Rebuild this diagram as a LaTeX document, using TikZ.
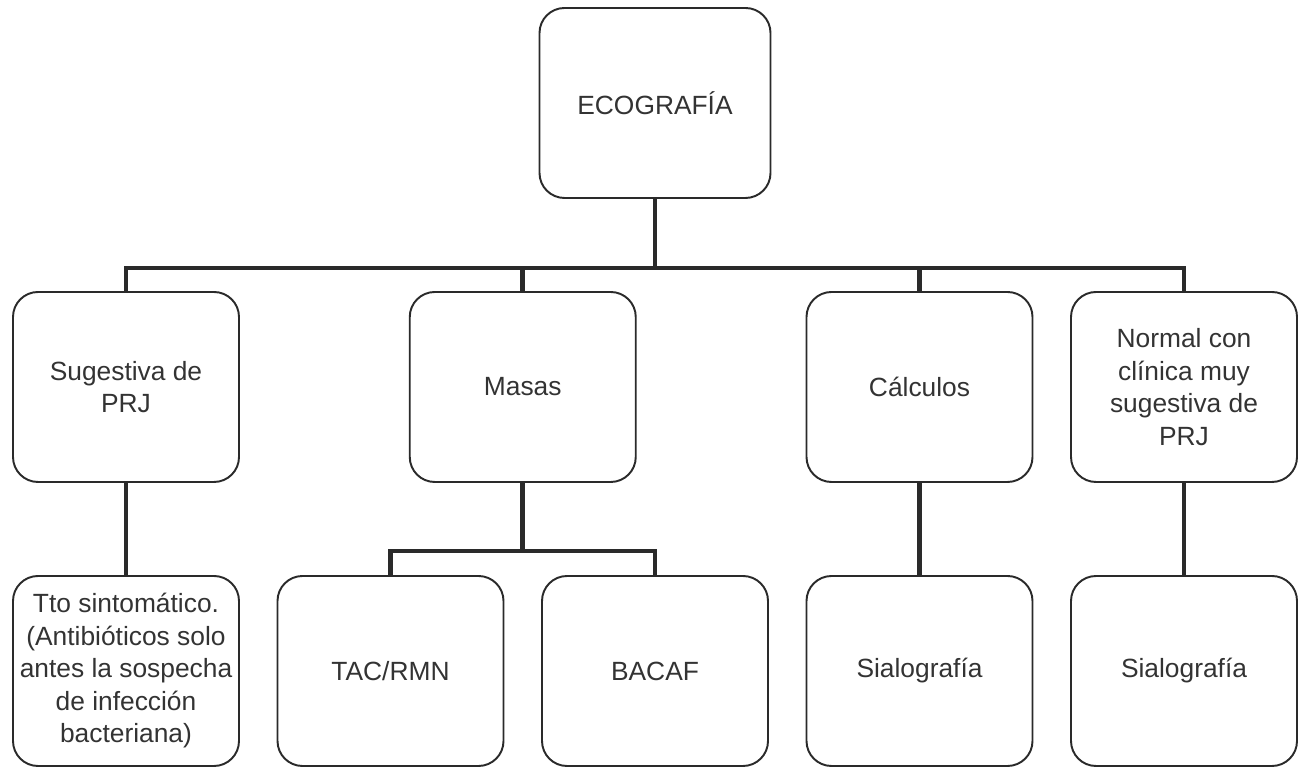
\documentclass[tikz,border=0pt]{standalone}
\usepackage{fontspec}
\setmainfont{Liberation Sans}
\usetikzlibrary{positioning, calc}
\usepackage{xcolor}
\definecolor{inkgray}{HTML}{2A2A2A}
\definecolor{textgray}{HTML}{333333}

\begin{document}
\begin{tikzpicture}[
    node distance=1.88cm and 0.77cm,
    box/.style={rectangle, draw=inkgray, line width=1.1pt, rounded corners=0.5cm, minimum width=4.52cm, minimum height=3.8cm, align=center, text=textgray, inner sep=2pt, outer sep=0pt, font=\fontsize{15}{18.5}\selectfont},
    link/.style={draw=inkgray, line width=2.6pt}
]
\useasboundingbox (-2.52,-1.92) rectangle (23.44,13.42);

% Nodes
\node[box] (tto) at (0,0) {Tto sintomático.\\(Antibióticos solo\\antes la sospecha\\de infección\\bacteriana)};
\node[box, right=of tto] (tac) {TAC/RMN};
\node[box, right=of tac] (bacaf) {BACAF};
\node[box, right=of bacaf] (sialo1) {Sialografía};
\node[box, right=of sialo1] (sialo2) {Sialografía};

\coordinate (midtop) at ($(tac.north)!0.5!(bacaf.north)$);
\node[box, above=of tto] (sugest) {Sugestiva de\\PRJ};
\node[box, above=of midtop] (masas) {Masas};
\node[box, above=of sialo1] (calculos) {Cálculos};
\node[box, above=of sialo2] (normal) {Normal con\\clínica muy\\sugestiva de\\PRJ};

\coordinate (roottop) at (bacaf |- masas.north);
\node[box, minimum width=4.62cm, above=of roottop] (eco) {ECOGRAFÍA};

% Arrows
\draw[link] (eco.south) -- ++(0,-1.4) coordinate (hub);
\draw[link] (sugest.north) |- (hub) -| (normal.north);
\draw[link] (masas.north) -- (masas.north |- hub);
\draw[link] (calculos.north) -- (calculos.north |- hub);
\draw[link] (sugest.south) -- (tto.north);
\draw[link] (masas.south) -- ++(0,-1.38) coordinate (subhub);
\draw[link] (tac.north) |- (subhub) -| (bacaf.north);
\draw[link] (calculos.south) -- (sialo1.north);
\draw[link] (normal.south) -- (sialo2.north);

\end{tikzpicture}
\end{document}
